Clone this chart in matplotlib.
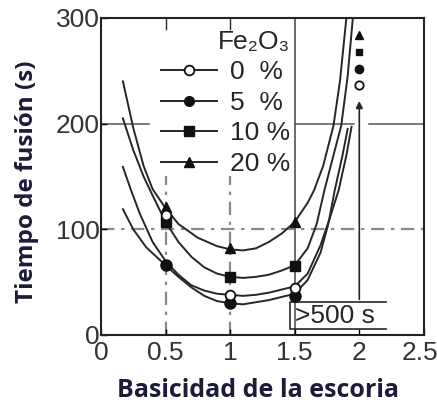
import matplotlib.pyplot as plt
from matplotlib.lines import Line2D
from matplotlib.transforms import ScaledTranslation

# --- data: melting time vs slag basicity for each Fe2O3 content ---
x_20 = [0.17, 0.25, 0.33, 0.40, 0.50, 0.60, 0.75, 0.90, 1.00, 1.10, 1.20, 1.30, 1.40, 1.50, 1.60, 1.65, 1.72, 1.80, 1.85, 1.90]
t_20 = [240, 196, 160, 138, 120, 105, 92, 84, 81, 80, 82, 88, 96, 107, 125, 137, 160, 198, 240, 300]

x_10 = [0.17, 0.25, 0.33, 0.40, 0.50, 0.60, 0.70, 0.80, 0.90, 1.00, 1.10, 1.20, 1.30, 1.40, 1.50, 1.60, 1.67, 1.73, 1.80, 1.86, 1.91, 1.95]
t_10 = [205, 175, 150, 132, 107, 88, 74, 64, 58, 55, 54, 55, 57, 61, 66, 82, 105, 137, 170, 198, 245, 300]

x_0 = [0.17, 0.23, 0.30, 0.40, 0.50, 0.60, 0.70, 0.80, 0.90, 1.00, 1.10, 1.20, 1.30, 1.40, 1.50, 1.60, 1.70, 1.77, 1.84, 1.90, 1.94]
t_0 = [159, 138, 115, 88, 70, 57, 47, 42, 39, 38, 37, 38, 40, 43, 46, 58, 85, 110, 137, 170, 197]

x_5 = [0.17, 0.25, 0.35, 0.50, 0.60, 0.70, 0.80, 0.90, 1.00, 1.10, 1.20, 1.30, 1.40, 1.50, 1.60, 1.70, 1.76, 1.81, 1.87, 1.91]
t_5 = [119, 100, 83, 66, 55, 45, 37, 32, 30, 29, 31, 33, 36, 39, 52, 78, 105, 137, 170, 195]

# measured points
bas_pts = [0.5, 1.0, 1.5]
pts_0 = [114, 38, 44]
pts_5 = [66, 30, 37]
pts_10 = [107, 55, 65]
pts_20 = [121, 82, 107]

# points beyond the scale (>500 s) at basicity 2
bas_over = 2.0
over_vals = {"0": 237, "5": 252, "10": 268, "20": 284}

ink = "#262626"
plt.rcParams['font.family'] = ['Liberation Sans Narrow', 'Liberation Sans', 'DejaVu Sans']

fig = plt.figure(figsize=(4.37, 4.08), dpi=100)
ax = fig.add_axes([0.231, 0.179, 0.739, 0.777])
ax.set_xlim(0, 2.5)
ax.set_ylim(0, 300)

# grid pieces
grid_kw = dict(color="#8a8a8a", lw=1.6, dashes=(6, 3, 1.5, 3), zorder=1)
for gx in (0.5, 1.0):
    ax.axvline(gx, ymin=0, ymax=0.5, **grid_kw)
    ax.axvline(gx, ymin=0.965, ymax=1.0, color=ink, lw=1, zorder=1)
ax.axvline(1.5, color="#444444", lw=1.1, zorder=1)
ax.axhline(100, **grid_kw)
ax.axhline(200, xmin=0, xmax=0.15, color="#555555", lw=1.1, zorder=1)
ax.axhline(200, xmin=0.6, xmax=0.785, color="#555555", lw=1.1, zorder=1)
ax.axhline(200, xmin=0.83, xmax=1.0, color="#555555", lw=1.1, zorder=1)

# curves
for xs, ts in ((x_20, t_20), (x_10, t_10), (x_0, t_0), (x_5, t_5)):
    ax.plot(xs, ts, color=ink, lw=1.4, zorder=2)

ax.plot(bas_pts, pts_20, ls="none", marker="^", ms=7, color="#111111", zorder=3)
ax.plot(bas_pts, pts_10, ls="none", marker="s", ms=7, color="#111111", zorder=3)
ax.plot(bas_pts, pts_5, ls="none", marker="o", ms=8, color="#111111", zorder=3)
ax.plot(bas_pts, pts_0, ls="none", marker="o", ms=7, mfc="white", mec="#111111", mew=1.3, zorder=4)

# off-scale column at basicity 2
ax.plot([bas_over], [over_vals["20"]], marker="^", ms=6, color="#111111", zorder=3)
ax.plot([bas_over], [over_vals["10"]], marker="s", ms=5, color="#111111", zorder=3)
ax.plot([bas_over], [over_vals["5"]], marker="o", ms=6, color="#111111", zorder=3)
ax.plot([bas_over], [over_vals["0"]], marker="o", ms=6, mfc="white", mec="#111111", mew=1.3, zorder=3)
ax.annotate("", xy=(2.0, 224), xytext=(2.0, 31),
            arrowprops=dict(arrowstyle="-|>", color=ink, lw=1.2, mutation_scale=10))

# >500 s box
ax.plot([2.21, 1.46, 1.46, 2.21], [31, 31, 6, 6], color=ink, lw=1.2, zorder=2)
ax.text(1.50, 18, ">500 s", fontsize=19, color=ink, va="center", ha="left")

# legend
handles = [
    Line2D([], [], color=ink, lw=1.4, marker="o", ms=7, mfc="white", mec="#111111", mew=1.3),
    Line2D([], [], color=ink, lw=1.4, marker="o", ms=7, mfc="#111111", mec="#111111"),
    Line2D([], [], color=ink, lw=1.4, marker="s", ms=7, mfc="#111111", mec="#111111"),
    Line2D([], [], color=ink, lw=1.4, marker="^", ms=7, mfc="#111111", mec="#111111"),
]
labels = ["0  %", "5  %", "10 %", "20 %"]
leg = ax.legend(handles, labels, title="Fe₂O₃", frameon=False, fontsize=19,
                title_fontsize=19, handlelength=2.1, handletextpad=0.5,
                labelspacing=0.25, borderpad=0, loc="upper left",
                bbox_to_anchor=(0.146, 1.005), alignment="right")
for t in leg.get_texts():
    t.set_color(ink)
leg.get_title().set_color(ink)

# axes styling
for s in ax.spines.values():
    s.set_linewidth(1.5)
    s.set_color("#222222")
ax.set_xticks([0, 0.5, 1, 1.5, 2, 2.5])
ax.set_xticklabels(["0", "0.5", "1", "1.5", "2", "2.5"])
ax.set_yticks([0, 100, 200, 300])
ax.tick_params(axis="both", direction="in", length=4, width=1, labelsize=19,
               labelcolor="#333333", pad=1)
ax.tick_params(axis="x", pad=4)
# keep the last x label inside the figure
last = ax.get_xticklabels()[-1]
last.set_transform(last.get_transform() + ScaledTranslation(-3 / 72, 0, fig.dpi_scale_trans))

fig.text(0.59, 0.044, "Basicidad de la escoria", ha="center", va="center",
         fontsize=18, fontweight="bold", family=["Open Sans", "DejaVu Sans"], color="#1c1c3a")
fig.text(0.062, 0.555, "Tiempo de fusión (s)", ha="center", va="center", rotation=90,
         fontsize=17.5, fontweight="bold", family=["Open Sans", "DejaVu Sans"], color="#1c1c3a")

fig.savefig("out.png", dpi=100)
